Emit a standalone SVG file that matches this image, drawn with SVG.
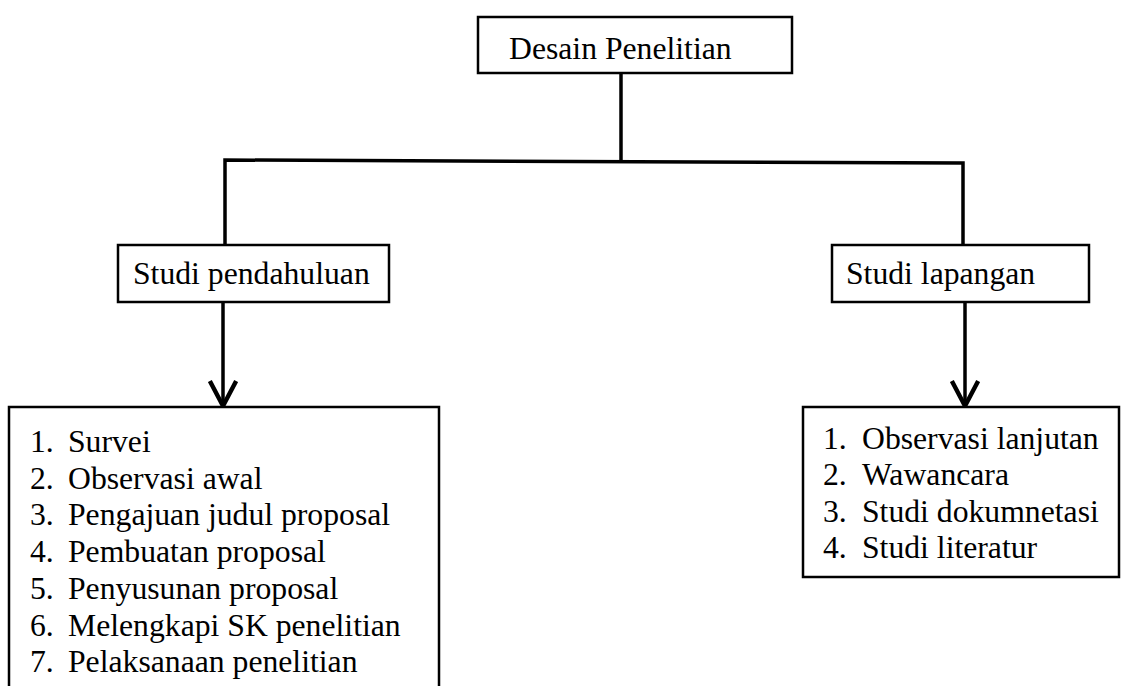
<svg xmlns="http://www.w3.org/2000/svg" width="1124" height="686" viewBox="0 0 1124 686">
<style>
.box{fill:#fff;stroke:#000;stroke-width:2.5}
.t{font-family:"Liberation Serif","Times New Roman",serif;font-size:31.7px;fill:#000}
.c{fill:none;stroke:#000;stroke-width:3.5}
</style>
<defs>
<marker id="v" markerUnits="userSpaceOnUse" markerWidth="30" markerHeight="30" refX="22" refY="12" orient="auto" viewBox="0 0 24 24">
<path d="M2,1.5 L22,12 L2,22.5" fill="none" stroke="#000" stroke-width="3.5"/>
</marker>
</defs>
<rect width="1124" height="686" fill="#fff"/>
<g id="connectors">
<path class="c" d="M621,73 L621,161.6"/>
<path class="c" d="M225,246 L225,160 L963,163 L963,246"/>
<path class="c" d="M223,302 L223,406" marker-end="url(#v)"/>
<path class="c" d="M965,302 L965,406" marker-end="url(#v)"/>
</g>
<g id="desain">
<rect class="box" x="478" y="17" width="314" height="56"/>
<text class="t" x="509" y="59">Desain Penelitian</text>
</g>
<g id="studi-pendahuluan">
<rect class="box" x="118" y="245" width="271" height="57"/>
<text class="t" x="133" y="284">Studi pendahuluan</text>
</g>
<g id="studi-lapangan">
<rect class="box" x="832" y="245" width="257" height="57"/>
<text class="t" x="846" y="284">Studi lapangan</text>
</g>
<g id="list-pendahuluan">
<rect class="box" x="9" y="407" width="430" height="300"/>
<g class="t">
<text x="30" y="452">1.</text><text x="68" y="452">Survei</text>
<text x="30" y="488.7">2.</text><text x="68" y="488.7">Observasi awal</text>
<text x="30" y="525.4">3.</text><text x="68" y="525.4">Pengajuan judul proposal</text>
<text x="30" y="562.1">4.</text><text x="68" y="562.1">Pembuatan proposal</text>
<text x="30" y="598.8">5.</text><text x="68" y="598.8">Penyusunan proposal</text>
<text x="30" y="635.5">6.</text><text x="68" y="635.5">Melengkapi SK penelitian</text>
<text x="30" y="672.2">7.</text><text x="68" y="672.2">Pelaksanaan penelitian</text>
</g>
</g>
<g id="list-lapangan">
<rect class="box" x="803" y="407" width="316" height="170"/>
<g class="t">
<text x="823" y="448.5">1.</text><text x="862" y="448.5">Observasi lanjutan</text>
<text x="823" y="485">2.</text><text x="862" y="485">Wawancara</text>
<text x="823" y="521.5">3.</text><text x="862" y="521.5">Studi dokumnetasi</text>
<text x="823" y="558">4.</text><text x="862" y="558">Studi literatur</text>
</g>
</g>
</svg>
